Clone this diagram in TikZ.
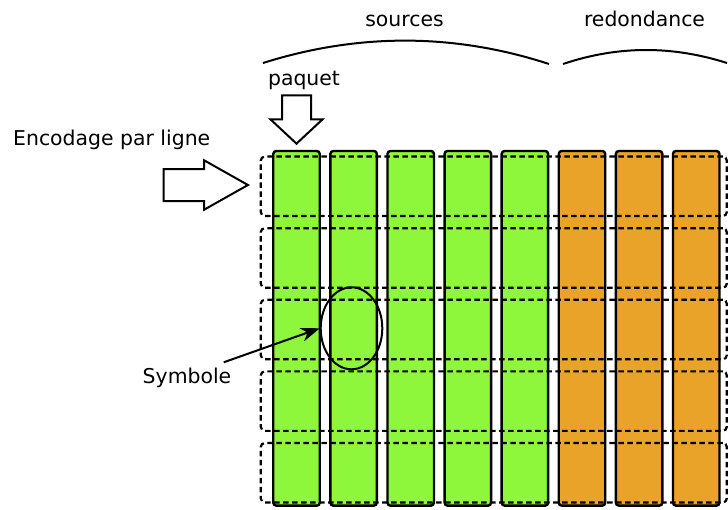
\documentclass[tikz,border=0pt]{standalone}
\usepackage{fontspec}
\setmainfont{DejaVu Sans}
\usetikzlibrary{arrows.meta,positioning,shapes.geometric,shapes.arrows}
\definecolor{srcgreen}{RGB}{142,246,59}
\definecolor{redorange}{RGB}{232,163,40}

\begin{document}
\begin{tikzpicture}[x=1pt,y=-1pt,font=\fontsize{20.4}{24}\selectfont,
    col/.style={draw,line width=2.4pt,rounded corners=3pt,minimum width=46.5pt,
      minimum height=354.7pt,inner sep=0pt},
    ligne/.style={draw,line width=2.2pt,dash pattern=on 5.5pt off 3.5pt,
      rounded corners=4pt,minimum width=466pt,minimum height=59.5pt,inner sep=0pt},
    bigarrow/.style={draw,line width=2pt,single arrow,single arrow head indent=0pt},
    brace/.style={line width=2pt}] 
  \useasboundingbox (0,0) rectangle (728,509);
  % paquets sources et redondance
  \foreach \i in {0,...,4}
    \node[col,fill=srcgreen] (c\i) at (296.5+57.1*\i,328.3) {};
  \foreach \i in {5,6,7}
    \node[col,fill=redorange] (c\i) at (296.5+57.1*\i,328.3) {};
  % lignes
  \foreach \j in {0,...,4}
    \node[ligne] (r\j) at (493.8,186.3+71.6*\j) {};
  % titres
  \node[anchor=base] (src) at (404.5,26) {sources};
  \node[anchor=base] (red) at (644.5,26.5) {redondance};
  \draw[brace] (263,63) .. controls (358,33) and (454,33) .. (549,64);
  \draw[brace] (563,64) .. controls (618,45.5) and (672,45.5) .. (727,63);
  \node[anchor=base] (paq) at (304,85) {paquet};
  \node[anchor=base] (enc) at (111.7,145) {Encodage par ligne};
  \node[bigarrow,anchor=tip,inner xsep=0pt,inner ysep=15pt,minimum height=84.3pt,
    single arrow head extend=8.7pt,single arrow tip angle=58.8] (encarrow) at (250,185) {};
  \node[bigarrow,anchor=tip,shape border rotate=270,inner sep=13.5pt,minimum height=48.3pt,
    single arrow head extend=11.5pt,single arrow tip angle=94] (paqarrow) at (296.5,145) {};
  % symbole
  \node[draw,ellipse,line width=2pt,minimum width=61.6pt,minimum height=82pt,
    inner sep=0pt] (sym) at (351.5,328.3) {};
  \node[anchor=base] (lbl) at (187,383.3) {Symbole};
  \draw[line width=2pt,-{Stealth[length=19pt,width=14pt]}]
    ([xshift=-11pt,yshift=2pt]lbl.north east) -- (sym.west);
\end{tikzpicture}
\end{document}
